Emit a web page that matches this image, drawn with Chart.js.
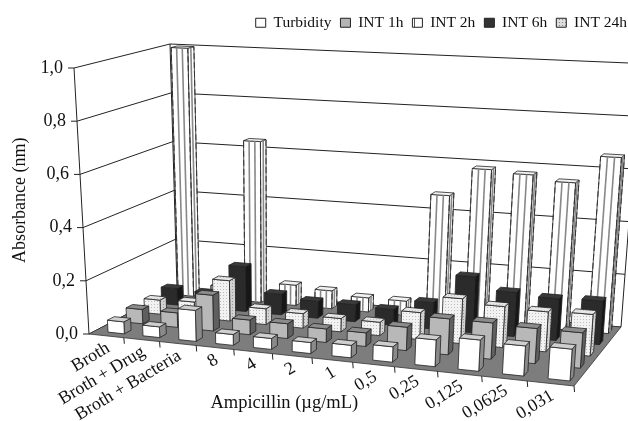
<!DOCTYPE html>
<html>
<head>
<meta charset="utf-8">
<style>
  html, body { margin: 0; padding: 0; background: #fff; }
  canvas { display: block; }
</style>
<script src="https://cdn.jsdelivr.net/npm/chart.js@4"></script>
</head>
<body>
<canvas id="chart" width="628" height="421"></canvas>
<script>
'use strict';

// ── DATA ──────────────────────────────────────────────────────────────────────
const categories = ['Broth', 'Broth + Drug', 'Broth + Bacteria', '8', '4', '2', '1', '0,5', '0,25', '0,125', '0,0625', '0,031'];
const turbidity  = [0.045, 0.04, 0.115, 0.04, 0.04, 0.04, 0.045, 0.055, 0.095, 0.11, 0.105, 0.11];
const int1h      = [0.055, 0.055, 0.135, 0.055, 0.055, 0.05, 0.05, 0.085, 0.13, 0.13, 0.125, 0.125];
const int2h      = [1.0, 0.05, 0.64, 0.08, 0.07, 0.055, 0.055, 0.475, 0.585, 0.575, 0.555, 0.66];
const int6h      = [0.065, 0.06, 0.175, 0.08, 0.065, 0.065, 0.06, 0.10, 0.21, 0.165, 0.155, 0.16];
const int24h     = [0.055, 0.06, 0.155, 0.06, 0.055, 0.05, 0.05, 0.10, 0.165, 0.15, 0.145, 0.15];

const X_TITLE = 'Ampicillin (µg/mL)';
const Y_TITLE = 'Absorbance (nm)';

// ── BOX GEOMETRY ──────────────────────────────────────────────────────────────
// corners of the floor and of the plane at the top of the y axis: front-left, front-right, back-right, back-left
const FLOOR = [[89, 334], [574, 386], [621, 327], [177, 288]];
const CEIL  = [[74, 68], [594, 94], [641, 63.5], [170, 44]];
const ROWS       = 5;      // rows going back
const BAR_WIDTH  = 0.47;   // share of a category band
const BAR_DEPTH  = 0.36;   // share of a row band
const BAR_SHIFT  = 0.009;  // bars sit a little right of the band centre

function homography(q) {
  const [x0, y0] = q[0], [x1, y1] = q[1], [x2, y2] = q[2], [x3, y3] = q[3];
  const dx1 = x1 - x2, dx2 = x3 - x2, sx = x0 - x1 + x2 - x3;
  const dy1 = y1 - y2, dy2 = y3 - y2, sy = y0 - y1 + y2 - y3;
  const den = dx1 * dy2 - dx2 * dy1;
  const g = (sx * dy2 - dx2 * sy) / den;
  const h = (dx1 * sy - sx * dy1) / den;
  const a = x1 - x0 + g * x1, b = x3 - x0 + h * x3;
  const d = y1 - y0 + g * y1, e = y3 - y0 + h * y3;
  return (X, Y) => {
    const w = g * X + h * Y + 1;
    return [(a * X + b * Y + x0) / w, (d * X + e * Y + y0) / w];
  };
}
const floorAt = homography(FLOOR);
const ceilAt  = homography(CEIL);

function project(X, Y, Z) {
  const f = floorAt(X, Y), c = ceilAt(X, Y);
  return [f[0] + (c[0] - f[0]) * Z, f[1] + (c[1] - f[1]) * Z];
}

// ── FILL PATTERNS ─────────────────────────────────────────────────────────────
function dotPattern(bg, dot) {
  const c = document.createElement('canvas');
  c.width = c.height = 3;
  const p = c.getContext('2d');
  p.fillStyle = bg;
  p.fillRect(0, 0, 3, 3);
  p.fillStyle = dot;
  p.fillRect(1, 1, 1, 1);
  return p.createPattern(c, 'repeat');
}

function stripePattern() {
  const c = document.createElement('canvas');
  c.width = 10; c.height = 10;
  const p = c.getContext('2d');
  p.fillStyle = '#fff';
  p.fillRect(0, 0, 10, 10);
  p.fillStyle = '#555';
  p.fillRect(4, 0, 1, 10);
  return p.createPattern(c, 'repeat');
}

// ── 3D BAR CONTROLLER ─────────────────────────────────────────────────────────
function poly(ctx, pts, fill, stroke) {
  ctx.beginPath();
  pts.forEach((p, i) => (i ? ctx.lineTo(p[0], p[1]) : ctx.moveTo(p[0], p[1])));
  ctx.closePath();
  ctx.fillStyle = fill;
  ctx.fill();
  ctx.strokeStyle = stroke;
  ctx.lineWidth = 0.8;
  ctx.stroke();
}

function seg(ctx, a, b) {
  ctx.beginPath();
  ctx.moveTo(a[0], a[1]);
  ctx.lineTo(b[0], b[1]);
  ctx.stroke();
}

class Bar3DController extends Chart.BarController {
  draw() {
    const ds = this.getDataset();
    const { xScale, yScale } = this._cachedMeta;
    const ctx = this.chart.ctx;
    const row = ds.depthRow;
    const y0 = (row + 0.5 - BAR_DEPTH / 2) / ROWS;
    const y1 = (row + 0.5 + BAR_DEPTH / 2) / ROWS;
    const band = 1 / categories.length;
    ctx.save();
    ds.data.forEach((value, i) => {
      const xc = xScale.getDecimalForPixel(xScale.getPixelForValue(i)) + BAR_SHIFT;
      const x0 = xc - band * BAR_WIDTH / 2;
      const x1 = xc + band * BAR_WIDTH / 2;
      const z = yScale.getDecimalForPixel(yScale.getPixelForValue(value));
      const front = [project(x0, y0, 0), project(x1, y0, 0), project(x1, y0, z), project(x0, y0, z)];
      const right = [project(x1, y0, 0), project(x1, y1, 0), project(x1, y1, z), project(x1, y0, z)];
      const top   = [project(x0, y0, z), project(x1, y0, z), project(x1, y1, z), project(x0, y1, z)];
      poly(ctx, right, ds.faces.right, '#222');
      poly(ctx, front, ds.faces.front, '#222');
      poly(ctx, top, ds.faces.top, '#222');
      if (ds.striped) {
        // lines running up the faces follow the perspective
        ctx.strokeStyle = '#888';
        ctx.lineWidth = 1.6;
        [0.33, 0.67].forEach(f => {
          const xs = x0 + (x1 - x0) * f;
          seg(ctx, project(xs, y0, 0), project(xs, y0, z));
        });
        seg(ctx, project(x1, y0 + (y1 - y0) * 0.5, 0), project(x1, y0 + (y1 - y0) * 0.5, z));
        ctx.strokeStyle = '#333';
        ctx.lineWidth = 1;
        ctx.setLineDash([6, 3]);
        seg(ctx, project(x0, y0, 0), project(x0, y0, z));
        seg(ctx, project(x1, y0, 0), project(x1, y0, z));
        seg(ctx, project(x1, y1, 0), project(x1, y1, z));
        ctx.setLineDash([]);
      }
    });
    ctx.restore();
  }
}
Bar3DController.id = 'bar3d';
Bar3DController.defaults = Chart.BarController.defaults;
Chart.register(Bar3DController);

// ── WALLS, FLOOR AND AXIS TEXT ────────────────────────────────────────────────
const boxPlugin = {
  id: 'box',
  beforeDatasetsDraw(chart) {
    const { ctx, scales: { y } } = chart;
    ctx.save();
    ctx.strokeStyle = '#222';
    ctx.lineWidth = 1;

    // grid lines on the left and back walls, tick stubs on the axis
    y.ticks.forEach(t => {
      const z = y.getDecimalForPixel(y.getPixelForValue(t.value));
      const a = project(0, 0, z), b = project(0, 1, z), c = project(1, 1, z);
      ctx.beginPath();
      ctx.moveTo(a[0] - 6, a[1]);
      ctx.lineTo(a[0], a[1]);
      ctx.lineTo(b[0], b[1]);
      ctx.lineTo(c[0], c[1]);
      ctx.stroke();
    });
    seg(ctx, project(0, 0, 0), project(0, 0, 1));
    seg(ctx, project(0, 1, 0), project(0, 1, 1));
    seg(ctx, project(1, 1, 0), project(1, 1, 1));

    poly(ctx, [project(0, 0, 0), project(1, 0, 0), project(1, 1, 0), project(0, 1, 0)], '#7d7d7d', '#333');

    // category tick stubs along the front edge
    ctx.strokeStyle = '#222';
    ctx.lineWidth = 1;
    for (let i = 1; i <= categories.length; i++) {
      const p = project(i / categories.length, 0, 0);
      seg(ctx, p, [p[0] + 0.5, p[1] + 6]);
    }
    ctx.restore();
  },
  afterDatasetsDraw(chart) {
    const { ctx, scales: { x, y } } = chart;
    ctx.save();
    ctx.fillStyle = '#111';
    ctx.font = '18px "Liberation Serif"';

    ctx.textAlign = 'right';
    ctx.textBaseline = 'middle';
    y.ticks.forEach(t => {
      const z = y.getDecimalForPixel(y.getPixelForValue(t.value));
      const a = project(0, 0, z);
      ctx.fillText(t.label, a[0] - 11, a[1]);
    });

    x.ticks.forEach((t, i) => {
      const xc = x.getDecimalForPixel(x.getPixelForValue(i));
      const p = project(xc, 0, 0);
      ctx.save();
      ctx.translate(p[0] + 2, p[1] + 11);
      ctx.rotate(-31 * Math.PI / 180);
      ctx.fillText(t.label, 0, 0);
      ctx.restore();
    });
    ctx.restore();
  },
};

// ── CHART ─────────────────────────────────────────────────────────────────────
const el = document.getElementById('chart');
const stripes = stripePattern();

new Chart(el.getContext('2d'), {
  type: 'bar3d',
  data: {
    labels: categories,
    datasets: [
      {
        label: 'Turbidity', data: turbidity, depthRow: 0, order: 0, clip: false,
        backgroundColor: '#fff', borderColor: '#222', borderWidth: 1,
        faces: { front: '#fff', right: '#8a8a8a', top: '#cfcfcf' },
      },
      {
        label: 'INT 1h', data: int1h, depthRow: 1, order: 1, clip: false,
        backgroundColor: '#b5b5b5', borderColor: '#222', borderWidth: 1,
        faces: { front: '#b8b8b8', right: '#5f5f5f', top: '#8c8c8c' },
      },
      {
        label: 'INT 2h', data: int2h, depthRow: 4, order: 4, clip: false, striped: true,
        backgroundColor: stripes, borderColor: '#222', borderWidth: 1,
        faces: { front: '#fff', right: '#fff', top: '#f2f2f2' },
      },
      {
        label: 'INT 6h', data: int6h, depthRow: 3, order: 3, clip: false,
        backgroundColor: '#333', borderColor: '#222', borderWidth: 1,
        faces: { front: '#2b2b2b', right: '#171717', top: '#3a3a3a' },
      },
      {
        label: 'INT 24h', data: int24h, depthRow: 2, order: 2, clip: false,
        backgroundColor: dotPattern('#ddd', '#888'), borderColor: '#222', borderWidth: 1,
        faces: {
          front: dotPattern('#f2f2f2', '#bdbdbd'),
          right: dotPattern('#d2d2d2', '#999'),
          top: dotPattern('#e6e6e6', '#c4c4c4'),
        },
      },
    ],
  },
  options: {
    responsive: false,
    animation: false,
    layout: { padding: { left: 9, right: -8, top: 6, bottom: 7 } },
    plugins: {
      tooltip: { enabled: false },
      legend: {
        position: 'top',
        align: 'end',
        labels: {
          color: '#111',
          font: { family: '"Liberation Serif"', size: 15.5 },
          boxWidth: 10,
          boxHeight: 9,
          padding: 9,
          sort: (a, b) => a.datasetIndex - b.datasetIndex,
        },
      },
    },
    scales: {
      x: {
        offset: true,
        grid: { display: false },
        border: { display: false },
        ticks: { display: false, autoSkip: false },
        title: {
          display: true,
          text: X_TITLE,
          color: '#111',
          font: { family: '"Liberation Serif"', size: 18.5 },
          padding: { top: 24, bottom: 0 },
        },
      },
      y: {
        min: 0,
        max: 1,
        grid: { display: false },
        border: { display: false },
        ticks: {
          display: false,
          stepSize: 0.2,
          callback: v => v.toFixed(1).replace('.', ','),
        },
        title: {
          display: true,
          text: Y_TITLE,
          color: '#111',
          font: { family: '"Liberation Serif"', size: 18 },
          padding: 0,
        },
      },
      // empty right axis only narrows the plot so the x title sits where it should
      spacer: {
        position: 'right',
        grid: { display: false },
        border: { display: false },
        ticks: { display: false },
        afterFit(scale) { scale.width = 106; },
      },
    },
  },
  plugins: [boxPlugin],
});
</script>
</body>
</html>
